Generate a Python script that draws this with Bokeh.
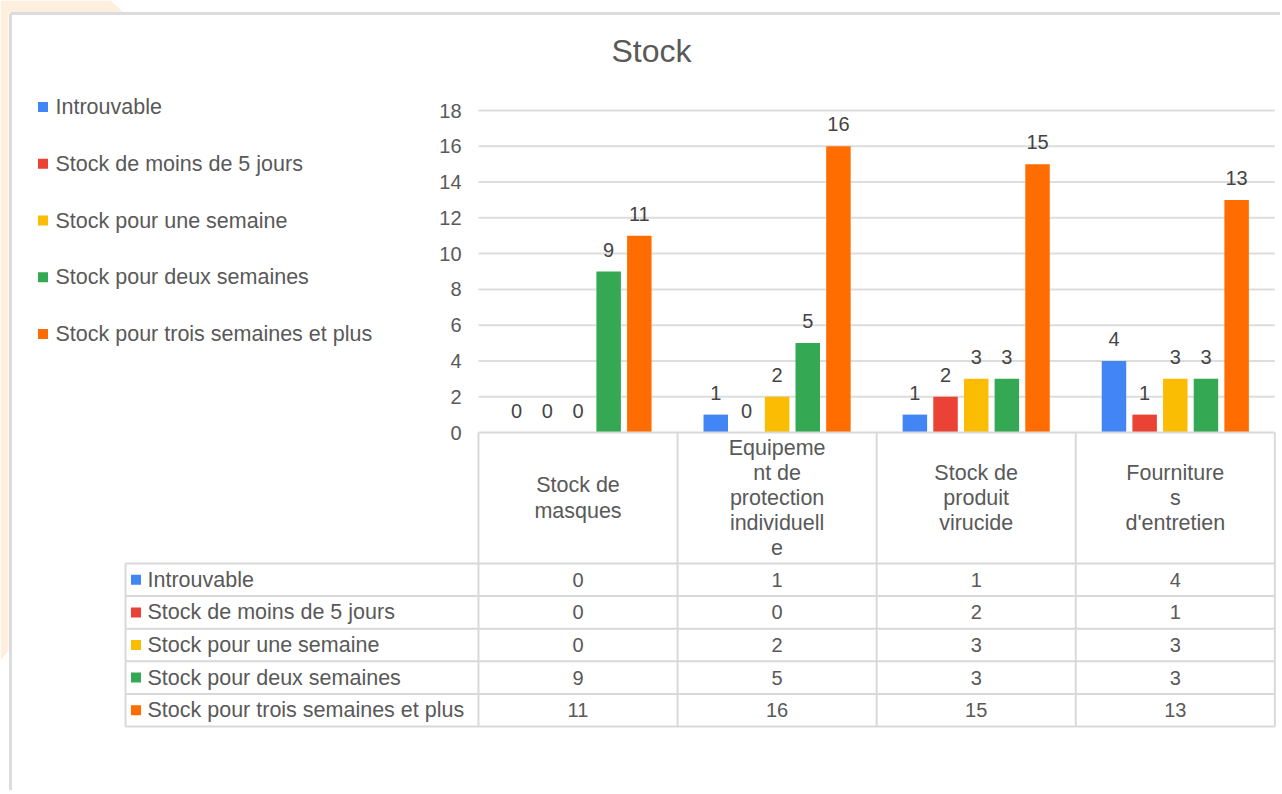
import numpy as np
from bokeh.plotting import figure
from bokeh.models import Range1d, ColumnDataSource
from bokeh.core.properties import value
from bokeh.embed import file_html
from bokeh.resources import INLINE

# ---------------- data ----------------
categories = ["Stock de masques", "Equipement de protection individuelle",
              "Stock de produit virucide", "Fournitures d'entretien"]
header_labels = ["Stock de\nmasques", "Equipeme\nnt de\nprotection\nindividuell\ne",
                 "Stock de\nproduit\nvirucide", "Fourniture\ns\nd'entretien"]
series_names = ["Introuvable", "Stock de moins de 5 jours", "Stock pour une semaine",
                "Stock pour deux semaines", "Stock pour trois semaines et plus"]
introuvable = [0, 1, 1, 4]
moins_5_jours = [0, 0, 2, 1]
une_semaine = [0, 2, 3, 3]
deux_semaines = [9, 5, 3, 3]
trois_semaines_plus = [11, 16, 15, 13]
y_ticks = [0, 2, 4, 6, 8, 10, 12, 14, 16, 18]
title_text = "Stock"

series_values = [introuvable, moins_5_jours, une_semaine, deux_semaines, trois_semaines_plus]
colors = ["#4285f4", "#ea4335", "#fbbc04", "#34a853", "#ff6d01"]

# ---------------- layout (page pixels -> data units) ----------------
W, H = 1280, 790
OFF = 0
X0, CW = 577.5, 199.1          # page px of first column centre, column width
Y0, YS = 432.0, 322.0 / 18.0   # page px of value 0, px per unit


def X(px):
    return (px - X0) / CW


def Y(py):
    return (Y0 - py) / YS


FONT = value("Liberation Sans")
GRAY = "#595959"
LABEL = "#444444"
LINE = "#d9d9d9"
TXT = "21.5px"
NUM = "20px"

p = figure(width=W, height=H, output_backend="svg", toolbar_location=None,
           x_range=Range1d(X(OFF), X(OFF + W)), y_range=Range1d(Y(OFF + H), Y(OFF)),
           x_axis_location=None, y_axis_location=None, min_border=0)
p.outline_line_color = None
p.grid.visible = False
p.background_fill_color = "white"
p.border_fill_color = "white"

# decorative page background + container border
p.patch([X(0), X(110), X(123), X(123), X(8), X(8), X(0)],
        [Y(0), Y(0), Y(12), Y(12), Y(12), Y(650), Y(660)],
        fill_color="#fdeede", line_color=None)
p.multi_line([[X(10), X(10)], [X(10), X(1282)]],
             [[Y(794), Y(13)], [Y(13), Y(13)]], line_color="#dcdcdc", line_width=3)

# title
p.text(x=[X(651)], y=[Y(50)], text=[title_text], text_font=FONT, text_font_size="32px",
       text_color=GRAY, text_align="center", text_baseline="middle")

# gridlines and y tick labels
gx0, gx1 = -0.5, len(categories) - 0.5
grid_y = [t for t in y_ticks if t > 0]
p.segment(x0=[gx0] * len(grid_y), x1=[gx1] * len(grid_y), y0=grid_y, y1=grid_y,
          line_color="#dddddd", line_width=2)
p.text(x=[X(461)] * len(y_ticks), y=y_ticks, text=[str(t) for t in y_ticks],
       text_font=FONT, text_font_size=NUM, text_color=GRAY,
       text_align="right", text_baseline="middle")

# bars + data labels
idx = np.arange(len(categories))
step, bw = 0.154, 0.123
for k, (vals, col) in enumerate(zip(series_values, colors)):
    xs = idx + (k - 2) * step
    src = ColumnDataSource(dict(x=xs, top=vals, lab=[str(v) for v in vals]))
    p.vbar(x="x", top="top", bottom=0, width=bw, source=src,
           fill_color=col, line_color=None)
    p.text(x="x", y="top", text="lab", source=src, text_font=FONT,
           text_font_size=NUM, text_color=LABEL, text_align="center",
           text_baseline="alphabetic", y_offset=-22)

# legend (left)
leg_y = [106.5 + 56.75 * k for k in range(len(series_names))]
p.scatter(x=[X(42.5)] * 5, y=[Y(v) for v in leg_y], marker="square", size=10,
          fill_color=colors, line_color=None)
p.text(x=[X(55)] * 5, y=[Y(v) for v in leg_y], text=series_names, text_font=FONT,
       text_font_size=TXT, text_color=GRAY, text_align="left", text_baseline="middle")

# data table
tbl_left = X(125)
hdr_bottom = Y(563)
row_h = 32.6 / YS
row_lines = [hdr_bottom - row_h * r for r in range(len(series_names) + 1)]
col_lines = list(np.arange(len(categories) + 1) - 0.5)
xs0 = [gx0] + [tbl_left] * len(row_lines)
xs1 = [gx1] * (len(row_lines) + 1)
ys = [0.0] + row_lines
p.segment(x0=xs0, x1=xs1, y0=ys, y1=ys, line_color=LINE, line_width=2)
p.segment(x0=[tbl_left] + col_lines, x1=[tbl_left] + col_lines,
          y0=[row_lines[0]] + [0.0] * len(col_lines),
          y1=[row_lines[-1]] * (len(col_lines) + 1), line_color=LINE, line_width=2)

# header labels
p.text(x=list(idx), y=[hdr_bottom / 2.0] * len(categories), text=header_labels,
       text_font=FONT, text_font_size=TXT, text_color=GRAY, text_align="center",
       text_baseline="middle", text_line_height=1.047)

# row labels and values
row_c = [hdr_bottom - row_h * (r + 0.5) for r in range(len(series_names))]
p.scatter(x=[X(135.5)] * 5, y=row_c, marker="square", size=10,
          fill_color=colors, line_color=None)
p.text(x=[X(147)] * 5, y=row_c, text=series_names, text_font=FONT,
       text_font_size=TXT, text_color=GRAY, text_align="left", text_baseline="middle")
cx, cy, ct = [], [], []
for r, vals in enumerate(series_values):
    for c, v in enumerate(vals):
        cx.append(c)
        cy.append(row_c[r])
        ct.append(str(v))
p.text(x=cx, y=cy, text=ct, text_font=FONT, text_font_size=NUM, text_color=GRAY,
       text_align="center", text_baseline="middle")

open("out.html", "w").write(file_html(p, INLINE))
